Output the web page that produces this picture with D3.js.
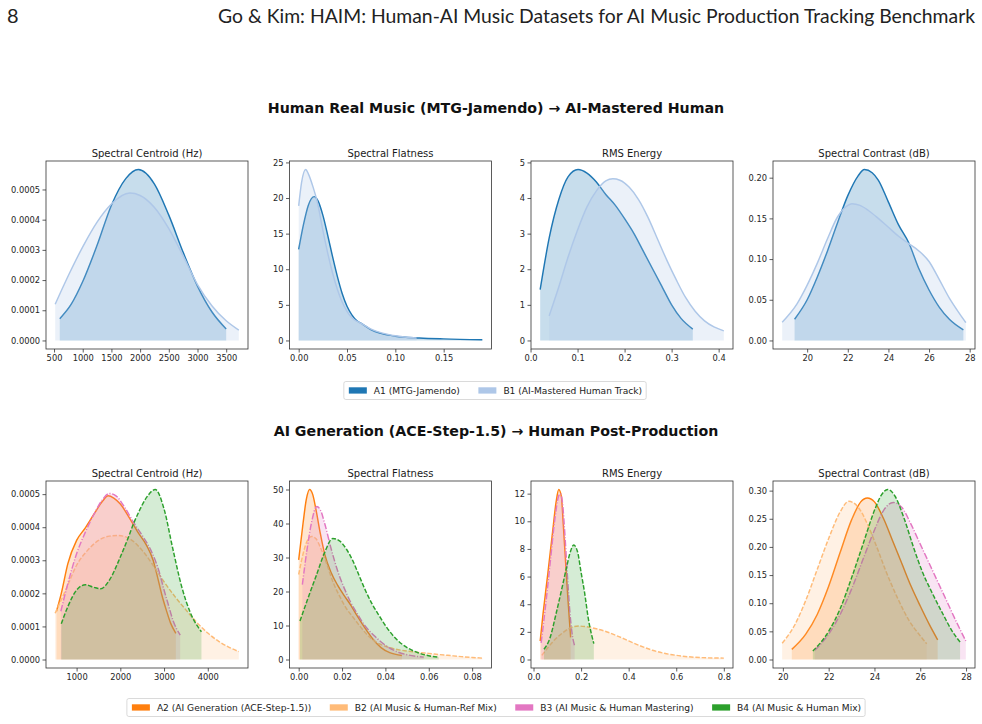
<!DOCTYPE html>
<html>
<head>
<meta charset="utf-8">
<script src="https://cdn.jsdelivr.net/npm/d3@7/dist/d3.min.js"></script>
<style>
  body { margin: 0; background: #fff; }
  svg { display: block; font-family: "DejaVu Sans", sans-serif; }
</style>
</head>
<body>
<div id="chart"></div>
<script>
// values, each point is [x, density]

// --- top row: A1 vs B1 ---
const centroidA1 = [[600, 0.000072], [800, 0.000120], [1000, 0.000195], [1250, 0.000315], [1500, 0.000448], [1750, 0.000536], [1970, 0.000566], [2250, 0.000518], [2500, 0.000415], [2750, 0.000292], [3000, 0.000180], [3250, 0.000095], [3500, 0.000038]];
const centroidB1 = [[520, 0.000120], [750, 0.000215], [1000, 0.000310], [1250, 0.000392], [1500, 0.000452], [1820, 0.000488], [2000, 0.000480], [2250, 0.000440], [2500, 0.000370], [2750, 0.000280], [3000, 0.000185], [3250, 0.000115], [3500, 0.000065], [3720, 0.000034]];

const flatnessA1 = [[0.000, 12.8], [0.005, 16.3], [0.010, 19.0], [0.016, 20.2], [0.020, 19.6], [0.025, 17.6], [0.030, 14.8], [0.035, 11.8], [0.040, 9.0], [0.045, 6.6], [0.050, 4.8], [0.055, 3.6], [0.060, 2.8], [0.066, 2.3], [0.075, 1.5], [0.085, 1.0], [0.100, 0.6], [0.125, 0.35], [0.150, 0.22], [0.190, 0.1]];
const flatnessB1 = [[0.000, 18.9], [0.003, 22.2], [0.0073, 24.0], [0.010, 23.4], [0.015, 21.5], [0.019, 19.6], [0.025, 15.5], [0.030, 12.3], [0.035, 9.5], [0.040, 7.2], [0.045, 5.4], [0.050, 4.1], [0.055, 3.2], [0.060, 2.7], [0.066, 2.3], [0.075, 1.6], [0.085, 1.1], [0.100, 0.65], [0.122, 0.35]];

const rmsA1 = [[0.0205, 1.43], [0.04, 2.9], [0.06, 3.95], [0.08, 4.6], [0.101, 4.8], [0.12, 4.7], [0.14, 4.45], [0.16, 4.1], [0.18, 3.8], [0.20, 3.42], [0.22, 3.0], [0.24, 2.5], [0.26, 2.0], [0.28, 1.5], [0.30, 1.0], [0.32, 0.62], [0.345, 0.32]];
const rmsB1 = [[0.0396, 0.69], [0.06, 1.5], [0.08, 2.35], [0.10, 3.1], [0.12, 3.75], [0.14, 4.2], [0.16, 4.48], [0.175, 4.54], [0.19, 4.5], [0.21, 4.3], [0.23, 3.95], [0.25, 3.45], [0.27, 2.85], [0.29, 2.25], [0.31, 1.7], [0.33, 1.2], [0.35, 0.82], [0.37, 0.55], [0.39, 0.38], [0.411, 0.27]];

const contrastA1 = [[19.38, 0.026], [20.0, 0.05], [20.5, 0.078], [21.0, 0.11], [21.5, 0.145], [22.0, 0.178], [22.5, 0.202], [22.82, 0.21], [23.2, 0.206], [23.5, 0.197], [24.0, 0.17], [24.5, 0.142], [25.0, 0.12], [25.5, 0.088], [26.0, 0.062], [26.5, 0.041], [27.0, 0.026], [27.69, 0.013]];
const contrastB1 = [[18.77, 0.0225], [19.5, 0.045], [20.0, 0.068], [20.5, 0.095], [21.0, 0.125], [21.5, 0.152], [22.0, 0.166], [22.2, 0.168], [22.6, 0.166], [23.0, 0.16], [23.5, 0.15], [24.0, 0.139], [24.5, 0.128], [25.0, 0.119], [25.5, 0.11], [26.0, 0.097], [26.5, 0.075], [27.0, 0.052], [27.5, 0.033], [27.81, 0.022]];

// --- bottom row: A2, B2, B3, B4 ---
const centroidA2 = [[540, 0.000146], [650, 0.000200], [800, 0.000290], [1000, 0.000360], [1200, 0.000398], [1400, 0.000440], [1600, 0.000480], [1720, 0.000495], [1850, 0.000488], [2000, 0.000470], [2200, 0.000430], [2400, 0.000385], [2600, 0.000345], [2750, 0.000300], [2850, 0.000250], [2950, 0.000195], [3050, 0.000150], [3150, 0.000110], [3270, 0.000079]];
const centroidB2 = [[510, 0.000140], [750, 0.000210], [1000, 0.000285], [1250, 0.000330], [1500, 0.000360], [1750, 0.000373], [1950, 0.000375], [2250, 0.000362], [2500, 0.000330], [2750, 0.000285], [3000, 0.000235], [3250, 0.000190], [3500, 0.000150], [3750, 0.000112], [4000, 0.000080], [4250, 0.000055], [4500, 0.000036], [4710, 0.000024]];
const centroidB3 = [[640, 0.000146], [800, 0.000230], [1000, 0.000320], [1200, 0.000385], [1400, 0.000440], [1600, 0.000485], [1750, 0.000502], [1900, 0.000495], [2100, 0.000460], [2300, 0.000415], [2500, 0.000375], [2700, 0.000330], [2900, 0.000260], [3000, 0.000210], [3100, 0.000165], [3200, 0.000120], [3370, 0.000074]];
const centroidB4 = [[650, 0.000108], [800, 0.000160], [1000, 0.000210], [1200, 0.000226], [1400, 0.000218], [1550, 0.000214], [1750, 0.000240], [2000, 0.000310], [2200, 0.000375], [2300, 0.000410], [2400, 0.000440], [2600, 0.000490], [2800, 0.000514], [3000, 0.000455], [3200, 0.000335], [3400, 0.000222], [3600, 0.000142], [3855, 0.000084]];

const flatnessA2 = [[0.0, 29.3], [0.002, 40], [0.0035, 47], [0.005, 50], [0.0065, 48.5], [0.008, 44], [0.010, 37], [0.012, 31], [0.015, 25.5], [0.018, 21.8], [0.021, 18.8], [0.024, 16], [0.027, 12.8], [0.030, 9.8], [0.034, 6.2], [0.038, 3.5], [0.042, 2.0], [0.0476, 1.2]];
const flatnessB2 = [[0.0, 25], [0.002, 31], [0.004, 35], [0.006, 36.2], [0.008, 35.5], [0.010, 33], [0.013, 28], [0.016, 22.5], [0.019, 18.5], [0.022, 15], [0.025, 12.5], [0.028, 10], [0.032, 7], [0.036, 5], [0.040, 3.9], [0.045, 3.0], [0.050, 2.5], [0.055, 2.1], [0.060, 1.8], [0.065, 1.45], [0.070, 1.15], [0.075, 0.85], [0.080, 0.6], [0.0847, 0.4]];
const flatnessB3 = [[0.0017, 22], [0.004, 33], [0.006, 40.5], [0.0083, 45], [0.010, 44], [0.012, 40], [0.015, 32.5], [0.018, 26], [0.021, 21], [0.024, 16.8], [0.027, 13.5], [0.030, 10.4], [0.035, 6.9], [0.040, 4.2], [0.045, 2.4], [0.050, 1.4], [0.0577, 0.7]];
const flatnessB4 = [[0.0006, 11.3], [0.004, 17.5], [0.008, 24.5], [0.012, 31.5], [0.0157, 35.6], [0.019, 34.8], [0.022, 32.5], [0.025, 29], [0.028, 24.5], [0.031, 20], [0.034, 16.2], [0.037, 13], [0.040, 10], [0.045, 6], [0.050, 3.5], [0.055, 2.0], [0.060, 1.1], [0.0646, 0.7]];

const rmsA2 = [[0.028, 1.34], [0.04, 3.3], [0.06, 6.2], [0.08, 9.2], [0.095, 11.4], [0.106, 12.3], [0.117, 11.8], [0.125, 9.8], [0.135, 7.0], [0.145, 4.3], [0.156, 1.6]];
const rmsB2 = [[0.035, 0.3], [0.06, 0.85], [0.09, 1.45], [0.12, 1.9], [0.15, 2.25], [0.19, 2.42], [0.23, 2.35], [0.27, 2.2], [0.30, 2.05], [0.35, 1.72], [0.40, 1.35], [0.45, 0.98], [0.50, 0.67], [0.55, 0.45], [0.60, 0.3], [0.65, 0.2], [0.70, 0.14], [0.80, 0.1]];
const rmsB3 = [[0.032, 1.2], [0.05, 3.8], [0.07, 7.0], [0.09, 10.2], [0.105, 11.8], [0.113, 12.0], [0.122, 11.3], [0.132, 9.0], [0.142, 6.2], [0.152, 3.6], [0.162, 1.9], [0.173, 0.98]];
const rmsB4 = [[0.044, 0.74], [0.068, 1.5], [0.096, 3.4], [0.12, 5.2], [0.138, 6.6], [0.155, 7.8], [0.169, 8.28], [0.185, 7.8], [0.20, 6.3], [0.215, 4.8], [0.23, 3.0], [0.2535, 1.15]];

const contrastA2 = [[20.39, 0.018], [21.0, 0.045], [21.5, 0.08], [22.0, 0.13], [22.5, 0.19], [23.0, 0.248], [23.4, 0.28], [23.69, 0.287], [24.0, 0.28], [24.4, 0.25], [24.8, 0.21], [25.2, 0.17], [25.6, 0.13], [26.0, 0.095], [26.4, 0.062], [26.76, 0.035]];
const contrastB2 = [[19.97, 0.029], [20.5, 0.06], [21.0, 0.105], [21.5, 0.16], [22.0, 0.215], [22.5, 0.262], [22.88, 0.281], [23.3, 0.27], [23.7, 0.24], [24.1, 0.2], [24.5, 0.157], [25.0, 0.11], [25.5, 0.07], [26.0, 0.042], [26.28, 0.028]];
const contrastB3 = [[21.39, 0.0165], [22.0, 0.045], [22.5, 0.08], [23.0, 0.125], [23.5, 0.178], [24.0, 0.23], [24.4, 0.265], [24.82, 0.279], [25.2, 0.27], [25.6, 0.24], [26.0, 0.205], [26.4, 0.17], [26.8, 0.135], [27.2, 0.1], [27.6, 0.065], [27.99, 0.033]];
const contrastB4 = [[21.31, 0.015], [22.0, 0.05], [22.5, 0.09], [23.0, 0.145], [23.5, 0.205], [24.0, 0.265], [24.3, 0.292], [24.58, 0.302], [24.9, 0.29], [25.3, 0.25], [25.7, 0.2], [26.1, 0.155], [26.5, 0.12], [27.0, 0.08], [27.4, 0.05], [27.74, 0.031]];

// tick values
const centroidTopXTicks = [500, 1000, 1500, 2000, 2500, 3000, 3500];
const centroidBotXTicks = [1000, 2000, 3000, 4000];
const centroidYTicks = [0, 0.0001, 0.0002, 0.0003, 0.0004, 0.0005];
const flatnessTopXTicks = [0, 0.05, 0.10, 0.15];
const flatnessTopYTicks = [0, 5, 10, 15, 20, 25];
const flatnessBotXTicks = [0, 0.02, 0.04, 0.06, 0.08];
const flatnessBotYTicks = [0, 10, 20, 30, 40, 50];
const rmsTopXTicks = [0, 0.1, 0.2, 0.3, 0.4];
const rmsTopYTicks = [0, 1, 2, 3, 4, 5];
const rmsBotXTicks = [0, 0.2, 0.4, 0.6, 0.8];
const rmsBotYTicks = [0, 2, 4, 6, 8, 10, 12];
const contrastXTicks = [20, 22, 24, 26, 28];
const contrastTopYTicks = [0, 0.05, 0.10, 0.15, 0.20];
const contrastBotYTicks = [0, 0.05, 0.10, 0.15, 0.20, 0.25, 0.30];

const panelTitles = ["Spectral Centroid (Hz)", "Spectral Flatness", "RMS Energy", "Spectral Contrast (dB)"];

const topSeries = [
    { label: "A1 (MTG-Jamendo)", color: "#1f77b4", dash: null },
    { label: "B1 (AI-Mastered Human Track)", color: "#aec7e8", dash: null }
];
const bottomSeries = [
    { label: "A2 (AI Generation (ACE-Step-1.5))", color: "#ff7f0e", dash: null },
    { label: "B2 (AI Music & Human-Ref Mix)", color: "#ffbb78", dash: "4.5,1.8" },
    { label: "B3 (AI Music & Human Mastering)", color: "#e377c2", dash: "6.5,1.7,1.1,1.7" },
    { label: "B4 (AI Music & Human Mix)", color: "#2ca02c", dash: "4.5,1.8" }
];

const W = 982, H = 724;
const colLeft = [46, 289.5, 531, 773];
const panelW = 202;

const svg = d3.select("#chart").append("svg")
    .attr("width", W)
    .attr("height", H);

// page header
svg.append("text")
    .attr("x", 7).attr("y", 23)
    .style("font-family", "Lato, 'Open Sans', sans-serif")
    .style("font-size", "20px")
    .attr("fill", "#222")
    .text("8");
const header = svg.append("text")
    .attr("x", 975).attr("y", 23)
    .attr("text-anchor", "end")
    .style("font-family", "Lato, 'Open Sans', sans-serif")
    .style("font-size", "20px")
    .attr("fill", "#222")
    .text("Go & Kim: HAIM: Human-AI Music Datasets for AI Music Production Tracking Benchmark");
// scale the font so the line spans the same width as the original
const hw = header.node().getComputedTextLength();
header.style("font-size", (20 * 757 / hw).toFixed(2) + "px");

function drawPanel(p, top, height, series, styles) {
    const g = svg.append("g").attr("transform", `translate(${colLeft[p.col]},${top})`);

    const allPts = series.flat();
    const [x0, x1] = d3.extent(allPts, d => d[0]);
    const ymax = d3.max(allPts, d => d[1]);
    const padX = (x1 - x0) * 0.05;

    const x = d3.scaleLinear().domain([x0 - padX, x1 + padX]).range([0, panelW]);
    const y = d3.scaleLinear().domain([-ymax * 0.05, ymax * 1.05]).range([height, 0]);

    const area = d3.area()
        .x(d => x(d[0]))
        .y0(y(0))
        .y1(d => y(d[1]))
        .curve(d3.curveMonotoneX);
    const line = d3.line()
        .x(d => x(d[0]))
        .y(d => y(d[1]))
        .curve(d3.curveMonotoneX);

    g.append("clipPath").attr("id", "clip" + p.id)
        .append("rect").attr("width", panelW).attr("height", height);

    const plot = g.append("g").attr("clip-path", `url(#clip${p.id})`);

    series.forEach((s, i) => {
        plot.append("path")
            .attr("d", area(s))
            .attr("fill", styles[i].color)
            .attr("fill-opacity", p.fillOpacity);
        plot.append("path")
            .attr("d", line(s))
            .attr("fill", "none")
            .attr("stroke", styles[i].color)
            .attr("stroke-width", 1.45)
            .attr("stroke-dasharray", styles[i].dash);
    });

    const xAxis = g.append("g")
        .attr("transform", `translate(0,${height})`)
        .call(d3.axisBottom(x).tickValues(p.xTicks).tickFormat(d3.format(p.xFmt)).tickSize(3.5).tickPadding(2.5));
    const yAxis = g.append("g")
        .call(d3.axisLeft(y).tickValues(p.yTicks).tickFormat(d3.format(p.yFmt)).tickSize(3.5).tickPadding(2.5));

    [xAxis, yAxis].forEach(a => {
        a.select(".domain").remove();
        a.selectAll("line").attr("stroke", "#333").attr("stroke-width", 0.8);
        a.selectAll("text")
            .style("font-family", "'DejaVu Sans', sans-serif")
            .style("font-size", "8.3px")
            .attr("fill", "#262626");
    });

    g.append("rect")
        .attr("width", panelW)
        .attr("height", height)
        .attr("fill", "none")
        .attr("stroke", "#333")
        .attr("stroke-width", 0.8);

    g.append("text")
        .attr("x", panelW / 2)
        .attr("y", -4.5)
        .attr("text-anchor", "middle")
        .style("font-size", "10px")
        .attr("fill", "#1a1a1a")
        .text(panelTitles[p.col]);
}

function drawLegend(cx, cy, styles) {
    const g = svg.append("g");
    const box = g.append("rect");
    let xpos = 0;
    const items = styles.map(s => {
        const item = g.append("g");
        item.append("rect")
            .attr("width", 18).attr("height", 6.3)
            .attr("y", -3.2)
            .attr("fill", s.color);
        const t = item.append("text")
            .attr("x", 25)
            .attr("dy", "0.35em")
            .style("font-size", "9.1px")
            .attr("fill", "#1a1a1a")
            .text(s.label);
        const w = 25 + t.node().getComputedTextLength();
        item.attr("transform", `translate(${xpos},0)`);
        xpos += w + 18.5;
        return item;
    });
    const total = xpos - 18.5;
    const left = cx - total / 2;
    items.forEach(it => {
        const tr = it.attr("transform").match(/translate\(([-\d.]+)/)[1];
        it.attr("transform", `translate(${left + (+tr)},${cy})`);
    });
    box.attr("x", left - 5).attr("y", cy - 9)
        .attr("width", total + 9).attr("height", 18)
        .attr("rx", 2)
        .attr("fill", "#fff")
        .attr("stroke", "#d0d0d0")
        .attr("stroke-width", 0.8);
}

// suptitles
svg.append("text")
    .attr("x", 496).attr("y", 113)
    .attr("text-anchor", "middle")
    .style("font-size", "14.2px")
    .style("font-weight", "bold")
    .attr("fill", "#111")
    .text("Human Real Music (MTG-Jamendo) \u2192 AI-Mastered Human");
svg.append("text")
    .attr("x", 496).attr("y", 436)
    .attr("text-anchor", "middle")
    .style("font-size", "14.2px")
    .style("font-weight", "bold")
    .attr("fill", "#111")
    .text("AI Generation (ACE-Step-1.5) \u2192 Human Post-Production");

const topPanels = [
    { id: 1, col: 0, data: [centroidA1, centroidB1], xTicks: centroidTopXTicks, yTicks: centroidYTicks, xFmt: "d", yFmt: ".4f" },
    { id: 2, col: 1, data: [flatnessA1, flatnessB1], xTicks: flatnessTopXTicks, yTicks: flatnessTopYTicks, xFmt: ".2f", yFmt: "d" },
    { id: 3, col: 2, data: [rmsA1, rmsB1], xTicks: rmsTopXTicks, yTicks: rmsTopYTicks, xFmt: ".1f", yFmt: "d" },
    { id: 4, col: 3, data: [contrastA1, contrastB1], xTicks: contrastXTicks, yTicks: contrastTopYTicks, xFmt: "d", yFmt: ".2f" }
];
const bottomPanels = [
    { id: 5, col: 0, data: [centroidA2, centroidB2, centroidB3, centroidB4], xTicks: centroidBotXTicks, yTicks: centroidYTicks, xFmt: "d", yFmt: ".4f" },
    { id: 6, col: 1, data: [flatnessA2, flatnessB2, flatnessB3, flatnessB4], xTicks: flatnessBotXTicks, yTicks: flatnessBotYTicks, xFmt: ".2f", yFmt: "d" },
    { id: 7, col: 2, data: [rmsA2, rmsB2, rmsB3, rmsB4], xTicks: rmsBotXTicks, yTicks: rmsBotYTicks, xFmt: ".1f", yFmt: "d" },
    { id: 8, col: 3, data: [contrastA2, contrastB2, contrastB3, contrastB4], xTicks: contrastXTicks, yTicks: contrastBotYTicks, xFmt: "d", yFmt: ".2f" }
];

topPanels.forEach(p => {
    p.fillOpacity = 0.25;
    drawPanel(p, 161, 188, p.data, topSeries);
});
bottomPanels.forEach(p => {
    p.fillOpacity = 0.2;
    drawPanel(p, 481, 187, p.data, bottomSeries);
});

drawLegend(495.5, 390.5, topSeries);
drawLegend(496.5, 707.5, bottomSeries);
</script>
</body>
</html>
